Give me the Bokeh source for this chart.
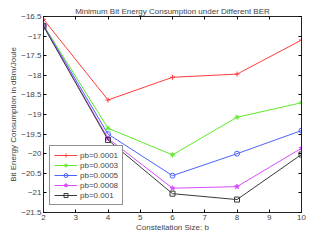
from bokeh.plotting import figure
from bokeh.models import LinearAxis, Range1d, Legend, LegendItem, FixedTicker
from bokeh.embed import file_html
from bokeh.resources import INLINE

b = [2, 4, 6, 8, 10]
pb_0001 = [-16.57, -18.63, -18.05, -17.97, -17.10]
pb_0003 = [-16.72, -19.35, -20.03, -19.07, -18.70]
pb_0005 = [-16.73, -19.50, -20.56, -20.00, -19.41]
pb_0008 = [-16.74, -19.61, -20.88, -20.84, -19.86]
pb_001 = [-16.75, -19.65, -21.02, -21.17, -20.02]

series = [
    ("pb=0.0001", pb_0001, "#ff3b3b", "cross"),
    ("pb=0.0003", pb_0003, "#5fe82a", "asterisk"),
    ("pb=0.0005", pb_0005, "#4a63ff", "circle"),
    ("pb=0.0008", pb_0008, "#d94dff", "star"),
    ("pb=0.001", pb_001, "#3a3a3a", "square"),
]

xticks = [2, 3, 4, 5, 6, 7, 8, 9, 10]
yticks = [-21.5, -21, -20.5, -20, -19.5, -19, -18.5, -18, -17.5, -17, -16.5]
ylabels = {v: ("%g" % v).replace("-", "\u2212") for v in yticks}

FONT = "Liberation Sans"

p = figure(width=316, height=234, output_backend="svg", toolbar_location=None,
           x_range=Range1d(2, 10), y_range=Range1d(-21.5, -16.5),
           min_border_left=43, min_border_right=15, min_border_top=16, min_border_bottom=0)
p.xgrid.visible = False
p.ygrid.visible = False
p.outline_line_color = "#222222"
p.outline_line_width = 1

p.title.text = "Minimum Bit Energy Consumption under Different BER"
p.title.text_font = FONT
p.title.text_font_size = "8px"
p.title.text_font_style = "normal"
p.title.align = "center"
p.title.offset = 0
p.title.standoff = 2

for ax in p.xaxis:
    ax.ticker = FixedTicker(ticks=xticks)
    ax.axis_label = "Constellation Size: b"
for ax in p.yaxis:
    ax.ticker = FixedTicker(ticks=yticks)
    ax.major_label_overrides = ylabels
    ax.axis_label = "Bit Energy Consumption in dBm/Joule"

for ax in p.xaxis + p.yaxis:
    ax.major_tick_in = 3
    ax.major_tick_out = 0
    ax.minor_tick_line_color = None
    ax.major_label_text_font = FONT
    ax.major_label_text_font_size = "8px"
    ax.axis_label_text_font = FONT
    ax.axis_label_text_font_size = "8px"
    ax.axis_label_text_font_style = "normal"
    ax.axis_label_standoff = 0
    ax.major_label_standoff = 2
    ax.axis_line_color = "#222222"

for loc in ("right", "above"):
    ticks = yticks if loc == "right" else xticks
    ax = LinearAxis(ticker=FixedTicker(ticks=ticks),
                    major_label_overrides={t: "" for t in ticks},
                    major_tick_in=3, major_tick_out=0, minor_tick_line_color=None,
                    major_label_text_font_size="1px", major_label_standoff=0,
                    axis_line_color="#222222")
    p.add_layout(ax, loc)

items = []
for name, ys, color, marker in series:
    r1 = p.line(b, ys, line_color=color, line_width=1)
    r2 = p.scatter(b, ys, marker=marker, size=5, line_color=color,
                   fill_color=(color if marker == "star" else None), line_width=1)
    items.append(LegendItem(label=name, renderers=[r1, r2]))

legend = Legend(items=items, location=(6, 7))
legend.label_text_font = FONT
legend.label_text_font_size = "8px"
legend.glyph_width = 23
legend.glyph_height = 10
legend.label_height = 10
legend.spacing = 0
legend.padding = 4
legend.margin = 0
legend.label_standoff = 3
legend.border_line_color = "#222222"
legend.background_fill_alpha = 1
p.add_layout(legend)

open("out.html", "w").write(file_html(p, INLINE))
